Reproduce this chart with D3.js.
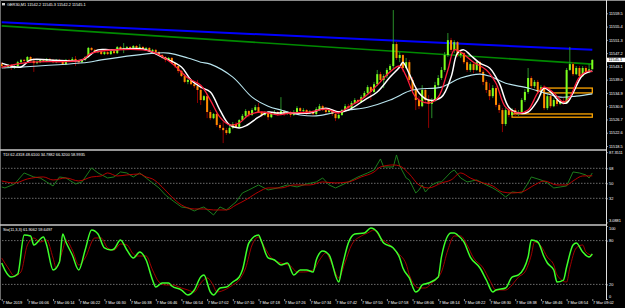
<!DOCTYPE html>
<html>
<head>
<meta charset="utf-8">
<script src="https://cdn.jsdelivr.net/npm/d3@7"></script>
<style>
html, body { margin: 0; padding: 0; background: #000; overflow: hidden; }
text { font-family: "Liberation Sans", Arial, sans-serif; }
</style>
</head>
<body>
<svg id="chart" width="625" height="308"></svg>
<script>
// bars are 1 minute each, bar 0 = 7 Mar 2019 05:58
const candles = [ // [open, high, low, close]
[11543.8,11544.4,11542.6,11543.2],[11543.2,11543.5,11542.3,11542.9],[11542.9,11543.8,11542.6,11543.5],[11543.5,11543.8,11542.0,11542.6],
[11542.6,11543.5,11542.3,11543.2],[11543.2,11544.8,11542.9,11544.4],[11544.4,11545.4,11544.1,11545.1],[11545.1,11545.4,11544.4,11544.8],
[11544.8,11546.3,11544.4,11546.0],[11546.0,11546.3,11544.4,11544.8],[11544.8,11545.7,11541.4,11544.1],[11544.1,11545.1,11543.8,11544.4],
[11544.4,11545.4,11544.1,11545.1],[11545.1,11545.4,11544.4,11544.8],[11544.8,11545.7,11544.4,11545.4],[11545.4,11545.7,11544.8,11545.1],
[11545.1,11545.4,11544.1,11544.4],[11544.4,11545.4,11544.1,11545.1],[11545.1,11545.4,11544.4,11544.8],[11544.8,11545.1,11543.5,11543.8],
[11543.8,11545.4,11543.5,11545.1],[11545.1,11545.4,11544.4,11544.8],[11544.8,11546.0,11544.4,11545.4],[11545.4,11546.3,11543.2,11544.8],
[11544.8,11545.1,11543.8,11544.4],[11544.4,11545.4,11544.1,11545.1],[11545.1,11546.3,11544.8,11546.0],[11546.0,11549.1,11545.7,11548.8],
[11548.8,11549.1,11547.8,11548.2],[11548.2,11548.5,11547.2,11547.5],[11547.5,11548.2,11547.2,11547.8],[11547.8,11548.2,11546.6,11546.9],
[11546.9,11547.8,11546.6,11547.5],[11547.5,11547.8,11546.6,11546.9],[11546.9,11548.2,11546.6,11547.8],[11547.8,11548.2,11546.9,11547.2],
[11547.2,11549.4,11546.9,11549.1],[11549.1,11549.4,11548.2,11548.5],[11548.5,11550.3,11547.2,11548.8],[11548.8,11549.4,11548.5,11549.1],
[11549.1,11549.4,11548.5,11548.8],[11548.8,11549.7,11548.5,11549.4],[11549.4,11549.7,11548.5,11548.8],[11548.8,11550.0,11548.5,11549.1],
[11549.1,11549.4,11548.2,11548.5],[11548.5,11549.1,11548.2,11548.8],[11548.8,11549.1,11547.5,11547.8],[11547.8,11548.5,11547.5,11548.2],
[11548.2,11548.5,11547.2,11547.5],[11547.5,11547.8,11546.3,11546.6],[11546.6,11546.9,11545.4,11546.0],[11546.0,11546.3,11544.4,11545.1],
[11545.1,11546.0,11544.8,11545.7],[11545.7,11546.0,11543.8,11544.1],[11544.1,11544.4,11542.6,11543.2],[11543.2,11543.5,11541.0,11541.7],
[11541.7,11542.0,11539.8,11540.1],[11540.1,11540.7,11537.9,11538.3],[11538.3,11539.2,11537.6,11538.9],[11538.9,11539.2,11537.3,11537.6],
[11537.6,11538.3,11536.4,11537.0],[11537.0,11538.9,11531.8,11535.8],[11535.8,11536.4,11531.2,11532.7],[11532.7,11534.2,11532.4,11533.9],
[11533.9,11534.6,11527.1,11529.0],[11529.0,11529.6,11526.5,11527.1],[11527.1,11528.7,11526.8,11528.4],[11528.4,11528.7,11524.4,11525.0],
[11525.0,11525.6,11523.4,11524.1],[11524.1,11525.9,11519.4,11523.4],[11523.4,11524.1,11521.9,11522.5],[11522.5,11524.7,11522.2,11524.1],
[11524.1,11525.9,11523.7,11525.3],[11525.3,11525.9,11524.1,11524.4],[11524.4,11526.8,11524.1,11526.5],[11526.5,11528.4,11526.2,11527.8],
[11527.8,11529.9,11527.4,11529.3],[11529.3,11529.6,11527.4,11528.1],[11528.1,11530.2,11527.8,11529.6],[11529.6,11531.2,11529.3,11530.5],
[11530.5,11531.8,11528.7,11529.0],[11529.0,11529.3,11527.4,11528.1],[11528.1,11529.3,11527.8,11528.7],[11528.7,11529.0,11526.5,11527.4],
[11527.4,11528.7,11527.1,11528.4],[11528.4,11529.6,11528.1,11529.0],[11529.0,11529.3,11527.8,11528.4],[11528.4,11533.6,11528.1,11529.3],
[11529.3,11529.6,11527.8,11528.4],[11528.4,11529.3,11528.1,11529.0],[11529.0,11529.3,11527.4,11528.1],[11528.1,11529.6,11527.8,11529.0],
[11529.0,11530.8,11528.7,11530.2],[11530.2,11530.5,11529.0,11529.3],[11529.3,11530.2,11529.0,11529.6],[11529.6,11529.9,11528.1,11528.7],
[11528.7,11529.6,11528.4,11529.3],[11529.3,11529.6,11527.8,11528.4],[11528.4,11530.5,11528.1,11529.9],[11529.9,11531.5,11529.6,11530.8],
[11530.8,11531.2,11529.3,11529.6],[11529.6,11529.9,11528.4,11529.0],[11529.0,11530.2,11528.7,11529.6],[11529.6,11529.9,11527.8,11528.4],
[11528.4,11528.7,11526.2,11527.1],[11527.1,11528.4,11526.8,11528.1],[11528.1,11529.9,11527.8,11529.6],[11529.6,11531.5,11529.3,11530.8],
[11530.8,11531.5,11529.6,11530.2],[11530.2,11532.4,11529.9,11531.8],[11531.8,11533.3,11531.5,11532.7],[11532.7,11533.0,11531.5,11532.1],
[11532.1,11534.2,11531.8,11533.6],[11533.6,11535.5,11533.3,11534.9],[11534.9,11537.3,11534.6,11536.7],[11536.7,11537.0,11532.7,11535.2],
[11535.2,11538.3,11534.9,11537.6],[11537.6,11542.0,11537.0,11540.7],[11540.7,11541.4,11538.3,11538.9],[11538.9,11540.7,11536.4,11540.1],
[11540.1,11542.6,11539.5,11542.0],[11542.0,11543.8,11541.4,11543.2],[11543.2,11560.5,11542.3,11550.0],[11550.0,11550.6,11545.1,11545.7],
[11545.7,11547.5,11544.4,11546.6],[11546.6,11546.9,11541.4,11542.6],[11542.6,11545.7,11542.3,11544.4],[11544.4,11545.1,11538.3,11538.9],
[11538.9,11539.8,11534.9,11535.8],[11535.8,11536.7,11529.6,11532.7],[11532.7,11533.9,11529.9,11530.8],[11530.8,11537.3,11530.5,11535.8],
[11535.8,11536.4,11531.8,11532.7],[11532.7,11534.2,11524.1,11531.5],[11531.5,11533.3,11527.1,11532.7],[11532.7,11538.3,11532.1,11537.3],
[11537.3,11540.4,11536.7,11539.5],[11539.5,11542.9,11538.9,11542.0],[11542.0,11547.5,11541.4,11546.6],[11546.6,11553.4,11546.0,11551.2],
[11551.2,11551.9,11547.5,11548.2],[11548.2,11551.2,11547.2,11550.6],[11550.6,11550.9,11546.0,11546.6],[11546.6,11548.2,11545.7,11547.2],
[11547.2,11547.5,11543.8,11544.4],[11544.4,11545.1,11541.4,11542.0],[11542.0,11544.4,11541.4,11543.8],[11543.8,11544.4,11541.0,11542.0],
[11542.0,11545.1,11541.7,11544.4],[11544.4,11544.8,11540.7,11541.4],[11541.4,11542.0,11537.3,11538.3],[11538.3,11538.9,11534.9,11535.8],
[11535.8,11537.9,11532.7,11533.9],[11533.9,11537.3,11533.3,11536.4],[11536.4,11537.0,11530.5,11531.2],[11531.2,11531.8,11528.7,11529.6],
[11529.6,11530.2,11522.8,11525.3],[11525.3,11530.2,11524.7,11529.6],[11529.6,11530.2,11527.4,11528.1],[11528.1,11530.2,11527.8,11529.6],
[11529.6,11530.2,11527.8,11528.4],[11528.4,11529.6,11527.8,11529.0],[11529.0,11533.3,11528.4,11532.7],[11532.7,11536.1,11532.1,11535.2],
[11535.2,11542.6,11534.6,11539.5],[11539.5,11540.1,11536.4,11537.0],[11537.0,11538.9,11536.4,11538.3],[11538.3,11538.9,11534.6,11535.2],
[11535.2,11537.3,11534.2,11536.7],[11536.7,11537.3,11529.6,11530.2],[11530.2,11534.6,11529.6,11533.9],[11533.9,11534.6,11530.2,11530.8],
[11530.8,11533.3,11530.5,11532.7],[11532.7,11533.6,11530.8,11531.5],[11531.5,11533.0,11531.2,11532.4],[11532.4,11533.3,11531.2,11531.8],
[11531.8,11542.6,11531.5,11542.0],[11542.0,11549.1,11541.7,11543.8],[11543.8,11544.4,11540.1,11540.7],[11540.7,11543.2,11540.4,11542.6],
[11542.6,11543.2,11539.5,11540.1],[11540.1,11543.2,11539.8,11542.6],[11542.6,11543.2,11540.7,11541.4],[11541.4,11543.8,11541.0,11542.2],
[11542.2,11545.3,11542.2,11545.1]
];

const timeLabels = ["7 Mar 2019","7 Mar 06:06","7 Mar 06:14","7 Mar 06:22","7 Mar 06:30","7 Mar 06:38","7 Mar 06:46","7 Mar 06:54",
  "7 Mar 07:02","7 Mar 07:10","7 Mar 07:18","7 Mar 07:26","7 Mar 07:34","7 Mar 07:42","7 Mar 07:50","7 Mar 07:58",
  "7 Mar 08:06","7 Mar 08:14","7 Mar 08:22","7 Mar 08:30","7 Mar 08:38","7 Mar 08:46","7 Mar 08:54","7 Mar 09:02"];
const priceTicks = [11559.5, 11555.4, 11551.3, 11547.2, 11543.1, 11539.0, 11534.9, 11530.8, 11526.7, 11522.6, 11518.5];
const lastPrice = 11545.1;

// moving averages, [bar, price]
const maWhite = [[0,11544.1],[3,11543.2],[6,11542.9],[9,11545.1],[15,11545.1],[25,11545.1],[30,11548.2],[34,11548.2],[44,11548.5],
  [50,11546.0],[56,11542.9],[59,11538.9],[62,11536.7],[65,11535.2],[68,11529.6],[71,11525.0],[74,11524.1],[76,11524.7],[80,11527.4],
  [83,11529.0],[86,11528.7],[90,11528.7],[96,11528.7],[101,11530.2],[105,11529.0],[108,11529.6],[113,11532.7],[117,11535.2],
  [121,11539.8],[124,11542.9],[125,11544.4],[127,11540.7],[130,11534.9],[133,11532.7],[137,11533.6],[140,11539.8],[142,11547.2],
  [144,11548.2],[146,11546.6],[149,11544.1],[152,11542.6],[155,11537.9],[158,11530.5],[161,11528.7],[164,11529.0],[167,11532.7],
  [169,11536.4],[171,11535.2],[174,11532.1],[176,11531.8],[178,11534.9],[181,11540.4],[184,11541.7]];
const maRed = [[0,11542.9],[9,11544.4],[25,11545.1],[28,11547.2],[44,11548.2],[48,11547.2],[53,11544.1],[58,11539.5],[62,11537.3],
  [65,11532.7],[68,11527.4],[71,11525.0],[74,11525.6],[77,11528.1],[81,11529.0],[86,11528.1],[90,11528.7],[96,11529.0],[101,11529.9],
  [105,11528.7],[108,11530.5],[113,11533.6],[117,11537.3],[121,11541.4],[124,11543.2],[126,11540.1],[129,11533.6],[133,11531.8],
  [136,11533.6],[139,11542.0],[141,11548.2],[143,11547.5],[147,11544.4],[151,11542.0],[154,11537.9],[157,11530.5],[161,11528.7],
  [164,11529.6],[167,11534.9],[169,11536.7],[172,11534.9],[175,11532.1],[177,11533.6],[180,11539.8],[183,11541.7],[184,11541.4]];
const maSlow = [[0,11542.6],[6,11542.9],[27,11544.4],[31,11545.1],[48,11547.2],[52,11547.2],[58,11545.7],[62,11544.4],[65,11543.8],
  [72,11539.8],[78,11533.6],[83,11530.8],[87,11529.6],[93,11528.1],[98,11527.8],[103,11528.7],[108,11529.6],[114,11530.5],
  [121,11532.7],[127,11535.5],[130,11536.1],[137,11536.7],[143,11539.5],[149,11540.7],[152,11540.1],[157,11537.9],[164,11536.4],
  [169,11534.9],[174,11533.6],[179,11533.9],[184,11534.6]];

const trendBlue = [[0, 11556.7], [184, 11548.2]];
const trendGreen = [[0, 11555.6], [184, 11543.8]];
const zones = [ // [fromBar, toBar, top, bottom]
  [169, 184, 11536.4, 11534.9],
  [159, 184, 11528.4, 11527.4]
];

// TDI window
const tdiLabel = "TDI 62.4318 48.6100 34.7882 66.3200 58.9935";
const tdiTicks = [87.3511, 68, 50, 32, 3.0881];
const tdiLevels = [68, 50, 32];
const tdiPrice = [[0,45.6],[1,44.4],[4,49.2],[7,62.4],[10,57.6],[12,56.4],[14,51.6],[16,46.8],[18,57.6],[20,56.4],[23,49.2],[25,51.6],
  [28,68.4],[30,62.4],[33,56.4],[35,57.6],[37,63.6],[39,62.4],[41,57.6],[43,62.4],[45,56.4],[47,50.4],[49,44.4],[51,36.0],[53,30.0],
  [56,21.6],[58,20.4],[60,16.8],[62,20.4],[63,21.6],[66,12.0],[68,21.6],[70,18.0],[73,27.6],[75,38.4],[77,42.0],[80,48.0],[83,42.0],
  [86,44.4],[89,48.0],[92,45.6],[95,49.2],[98,51.6],[100,56.4],[102,48.0],[104,44.4],[108,51.6],[111,57.6],[114,62.4],[116,66.0],
  [118,79.2],[119,69.6],[122,69.6],[123,84.0],[124,70.8],[126,56.4],[127,54.0],[129,38.4],[130,42.0],[131,48.0],[132,39.6],[134,48.0],
  [136,51.6],[137,51.6],[140,63.6],[141,66.0],[143,56.4],[145,51.6],[148,54.0],[151,48.0],[153,44.4],[155,39.6],[157,33.6],[159,39.6],
  [162,38.4],[164,50.4],[165,57.6],[168,54.0],[170,50.4],[172,44.4],[174,45.6],[176,46.8],[178,63.6],[180,62.4],[182,60.0],[183,56.4],[184,62.4]];
const tdiSignal = [[0,52.8],[4,50.4],[8,55.2],[13,57.6],[16,54.0],[20,56.4],[24,52.8],[28,57.6],[31,58.8],[33,62.4],[36,58.8],[39,60.0],
  [43,61.2],[45,57.6],[47,55.2],[50,45.6],[53,33.6],[56,24.0],[60,19.2],[63,19.2],[66,18.0],[70,18.0],[73,24.0],[76,30.0],[80,39.6],
  [83,44.4],[87,44.4],[91,48.0],[96,48.0],[100,51.6],[104,50.4],[108,51.6],[112,57.6],[116,63.6],[118,69.6],[122,72.0],[124,70.8],
  [127,61.2],[130,48.0],[133,44.4],[137,50.4],[140,54.0],[143,62.4],[146,56.4],[149,51.6],[153,46.8],[156,39.6],[159,38.4],[162,39.6],
  [166,48.0],[169,52.8],[173,48.0],[176,48.0],[178,52.8],[181,58.8],[184,59.0]];

// Stochastic window
const stoLabel = "Sto(11,3,3) 61.9062 59.6497";
const stoTicks = [100, 80, 20, 0];
const stoLevels = [80, 20];
const stoMain = [[0,49.3],[1,39.7],[3,30.1],[5,34.2],[7,87.7],[9,86.3],[10,74.0],[13,84.9],[14,74.0],[16,39.7],[18,50.7],[19,89.0],
  [20,78.1],[22,60.3],[24,39.7],[26,67.1],[28,94.5],[30,89.0],[32,69.9],[34,67.1],[35,68.5],[37,80.8],[39,67.1],[41,56.2],[43,64.4],
  [45,53.4],[47,26.0],[48,16.4],[50,21.9],[52,21.9],[53,17.8],[56,12.3],[58,5.5],[60,12.3],[62,30.1],[63,32.9],[65,9.6],[66,5.5],
  [68,15.1],[70,16.4],[72,23.3],[74,30.1],[75,39.7],[77,76.7],[80,87.7],[81,78.1],[83,56.2],[85,53.4],[87,46.6],[89,49.3],[91,32.9],
  [93,39.7],[95,39.7],[97,37.0],[98,53.4],[100,65.8],[102,60.3],[105,23.3],[106,42.5],[108,76.7],[110,89.0],[113,90.4],[115,97.3],
  [117,91.8],[119,76.7],[122,69.9],[124,56.2],[125,42.5],[127,28.8],[129,9.6],[130,12.3],[131,19.2],[133,21.9],[136,30.1],[137,57.5],
  [140,90.4],[141,90.4],[142,87.7],[144,78.1],[146,57.5],[149,42.5],[151,26.0],[153,9.6],[154,12.3],[157,15.1],[159,30.1],[161,32.9],
  [164,57.5],[165,80.8],[167,78.1],[169,57.5],[170,49.3],[172,39.7],[173,23.3],[175,26.0],[176,43.8],[178,74.0],[179,76.7],[181,64.4],
  [183,57.5],[184,61.9]];
const stoSignal = [[0,56.2],[2,42.5],[4,31.5],[6,37.0],[8,74.0],[10,83.6],[12,78.1],[14,80.8],[16,56.2],[17,42.5],[19,67.1],[20,80.8],
  [22,67.1],[24,46.6],[26,56.2],[29,83.6],[31,83.6],[33,69.9],[35,67.1],[37,75.3],[39,74.0],[41,61.6],[42,58.9],[45,58.9],[47,39.7],
  [49,23.3],[51,19.2],[53,19.2],[56,15.1],[58,12.3],[60,9.6],[62,21.9],[64,28.8],[66,17.8],[67,9.6],[70,13.7],[72,19.2],[74,26.0],
  [76,42.5],[78,74.0],[80,84.9],[82,69.9],[84,56.2],[87,49.3],[90,45.2],[92,37.0],[94,37.0],[97,39.7],[99,53.4],[101,63.0],[103,46.6],
  [105,28.8],[107,50.7],[109,74.0],[112,86.3],[114,90.4],[116,94.5],[118,83.6],[121,74.0],[123,64.4],[126,47.9],[127,32.9],[130,15.1],
  [132,15.1],[134,21.9],[137,37.0],[139,67.1],[141,86.3],[143,86.3],[145,74.0],[147,56.2],[150,42.5],[152,26.0],[154,12.3],[157,12.3],
  [159,19.2],[161,30.1],[163,37.0],[165,60.3],[166,78.1],[168,72.6],[170,57.5],[172,46.6],[173,32.9],[176,23.3],[177,42.5],[179,69.9],
  [181,74.0],[182,64.4],[184,59.6]];

/////////////////////////////////
// layout
/////////////////////////////////
const plotRight = 606;
const svg = d3.select('#chart');
svg.append('rect').attr('width', 625).attr('height', 308).attr('fill', '#000');

const x = d3.scaleLinear().domain([0, 184]).range([1.7, 592.3]);
const yMain = d3.scaleLinear().domain([11518.5, 11559.5]).range([146, 13.3]);
const yTdi = d3.scaleLinear().domain([32, 68]).range([198.3, 168.3]);
const ySto = d3.scaleLinear().domain([0, 100]).range([299, 226]);

const defs = svg.append('defs');
const clip = (id, top, bottom) => {
    defs.append('clipPath').attr('id', id)
        .append('rect').attr('x', 1).attr('y', top).attr('width', plotRight - 1).attr('height', bottom - top);
    return svg.append('g').attr('clip-path', `url(#${id})`);
};
const main = clip('cMain', 1, 149);
const tdi = clip('cTdi', 151, 224);
const sto = clip('cSto', 226, 299);

const lineOf = (yScale, curve) => d3.line()
    .x(d => x(d[0]))
    .y(d => yScale(d[1]))
    .curve(curve || d3.curveMonotoneX);

/////////////////////////////////
// main window
/////////////////////////////////
main.selectAll('line.trend')
    .data([[trendBlue, '#0000ff', 2], [trendGreen, '#008a00', 1.6]])
    .enter().append('line')
        .attr('x1', d => x(d[0][0][0])).attr('y1', d => yMain(d[0][0][1]))
        .attr('x2', d => x(d[0][1][0])).attr('y2', d => yMain(d[0][1][1]))
        .attr('stroke', d => d[1])
        .attr('stroke-width', d => d[2]);

main.selectAll('rect.zone')
    .data(zones)
    .enter().append('rect')
        .attr('x', d => x(d[0]))
        .attr('y', d => yMain(d[2]))
        .attr('width', d => x(d[1]) - x(d[0]))
        .attr('height', d => yMain(d[3]) - yMain(d[2]))
        .attr('fill', 'none')
        .attr('stroke', '#ffa500')
        .attr('stroke-width', 1.3);

const bars = main.append('g');
bars.selectAll('line')
    .data(candles)
    .enter().append('line')
        .attr('x1', (d, i) => x(i)).attr('x2', (d, i) => x(i))
        .attr('y1', d => yMain(d[1])).attr('y2', d => yMain(d[2]))
        .attr('stroke', d => d[3] >= d[0] ? '#2e9e2e' : '#a00000')
        .attr('stroke-width', 0.9);
bars.selectAll('rect')
    .data(candles)
    .enter().append('rect')
        .attr('x', (d, i) => x(i) - 1)
        .attr('width', 2)
        .attr('y', d => yMain(Math.max(d[0], d[3])))
        .attr('height', d => Math.max(0.8, Math.abs(yMain(d[0]) - yMain(d[3]))))
        .attr('fill', d => d[3] >= d[0] ? '#7cff1e' : '#ff8c00');

[[maSlow, '#b8e4ee', 1.1], [maWhite, '#ffffff', 1.5], [maRed, '#ff1f3d', 1.3]].forEach(([data, color, w]) => {
    main.append('path')
        .datum(data)
        .attr('d', lineOf(yMain, d3.curveCatmullRom))
        .attr('fill', 'none')
        .attr('stroke', color)
        .attr('stroke-width', w);
});

/////////////////////////////////
// indicator windows
/////////////////////////////////
const levelLines = (g, levels, yScale) => {
    g.selectAll('line.level')
        .data(levels)
        .enter().append('line')
            .attr('x1', 2).attr('x2', plotRight)
            .attr('y1', d => yScale(d)).attr('y2', d => yScale(d))
            .attr('stroke', '#9a9a9a')
            .attr('stroke-width', 0.7)
            .attr('stroke-dasharray', '1.5,1.5');
};
levelLines(tdi, tdiLevels, yTdi);
levelLines(sto, stoLevels, ySto);

tdi.append('path').datum(tdiPrice).attr('d', lineOf(yTdi, d3.curveLinear))
    .attr('fill', 'none').attr('stroke', '#1f8a1f').attr('stroke-width', 0.9);
tdi.append('path').datum(tdiSignal).attr('d', lineOf(yTdi))
    .attr('fill', 'none').attr('stroke', '#c80000').attr('stroke-width', 0.9);

sto.append('path').datum(stoSignal).attr('d', lineOf(ySto))
    .attr('fill', 'none').attr('stroke', '#b00000').attr('stroke-width', 0.9);
sto.append('path').datum(stoMain).attr('d', lineOf(ySto))
    .attr('fill', 'none').attr('stroke', '#3dff2a').attr('stroke-width', 1.5);

/////////////////////////////////
// frame, separators, axes
/////////////////////////////////
svg.append('line').attr('x1', 0).attr('x2', 625).attr('y1', 0.5).attr('y2', 0.5).attr('stroke', '#8a8a8a');
svg.append('line').attr('x1', 0.5).attr('x2', 0.5).attr('y1', 0).attr('y2', 300).attr('stroke', '#6a6a6a');
svg.append('line').attr('x1', plotRight + 0.5).attr('x2', plotRight + 0.5).attr('y1', 0).attr('y2', 300)
    .attr('stroke', '#e0e0e0').attr('stroke-width', 1);
svg.selectAll('line.sep')
    .data([150, 225])
    .enter().append('line')
        .attr('x1', 0).attr('x2', plotRight)
        .attr('y1', d => d).attr('y2', d => d)
        .attr('stroke', '#c8c8c8')
        .attr('stroke-width', 1.6);

const styleAxis = g => {
    g.select('.domain').remove();
    g.selectAll('line').attr('stroke', '#d0d0d0').attr('stroke-width', 0.7);
    g.selectAll('text').attr('fill', '#ffffff').style('font-size', '3.9px')
        .style('font-family', '"Liberation Sans", Arial, sans-serif');
};

svg.append('g')
    .attr('transform', `translate(${plotRight},0)`)
    .call(d3.axisRight(yMain).tickValues(priceTicks).tickSize(2).tickPadding(1).tickFormat(d3.format('.1f')))
    .call(styleAxis);
svg.append('g')
    .attr('transform', `translate(${plotRight},0)`)
    .call(d3.axisRight(yTdi).tickValues(tdiTicks).tickSize(2).tickPadding(1)
        .tickFormat(d => Number.isInteger(d) ? d : d.toFixed(4)))
    .call(styleAxis)
    .selectAll('text').attr('dy', d => d === 3.0881 ? '-0.2em' : '0.32em');

// MT4 keeps the 100 and 0 captions inside the window
svg.append('g')
    .attr('transform', `translate(${plotRight},0)`)
    .call(d3.axisRight(ySto).tickValues(stoTicks).tickSize(2).tickPadding(1))
    .call(styleAxis)
    .selectAll('text').attr('dy', d => d === 100 ? '0.95em' : d === 0 ? '-0.45em' : '0.32em');

svg.append('g')
    .attr('transform', 'translate(0,299)')
    .call(d3.axisBottom(x).tickValues(timeLabels.map((t, k) => k * 8)).tickSize(2).tickPadding(0)
        .tickFormat((d, k) => timeLabels[k]))
    .call(styleAxis)
    .selectAll('text').attr('text-anchor', 'start').attr('dx', '0.2');

// current price marker
const lp = svg.append('g').attr('transform', `translate(607,${yMain(lastPrice)})`);
lp.append('rect').attr('x', 0).attr('y', -2.2).attr('width', 18).attr('height', 4.4).attr('fill', '#ffffff');
lp.append('text').attr('x', 1.5).attr('y', 1.4).attr('fill', '#000').style('font-size', '3.9px').text(lastPrice.toFixed(1));

// window captions
svg.append('rect').attr('x', 2).attr('y', 3).attr('width', 3).attr('height', 2.4).attr('fill', '#cfcfcf');
const caption = (txt, xx, yy) => svg.append('text').attr('x', xx).attr('y', yy).attr('fill', '#fff')
    .style('font-size', '3.9px').text(txt);
caption('GER30,M1  11542.2 11545.3 11542.2 11545.1', 7, 5.8);
caption(tdiLabel, 3, 155.8);
caption(stoLabel, 3, 230.6);
</script>
</body>
</html>
